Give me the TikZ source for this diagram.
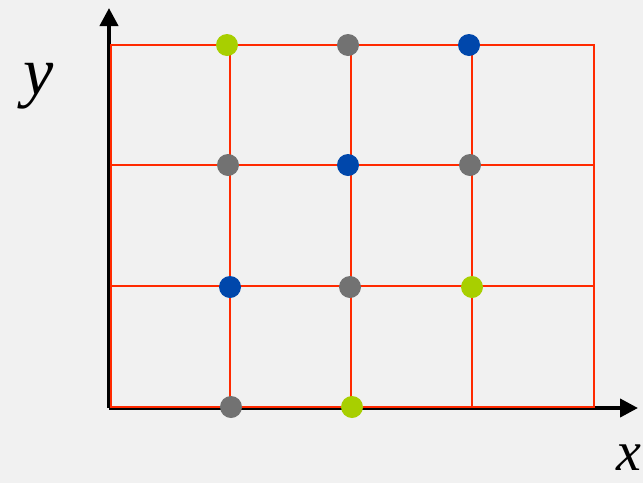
\documentclass[tikz,border=0pt]{standalone}
\usepackage{fontspec}
\setmainfont{Liberation Serif}
\usetikzlibrary{arrows.meta}
\definecolor{bg}{HTML}{F1F1F1}
\definecolor{gridred}{HTML}{FF2A00}
\definecolor{dotgreen}{HTML}{A8CF00}
\definecolor{dotgray}{HTML}{727272}
\definecolor{dotblue}{HTML}{0047AB}
\tikzset{
  gridline/.style={draw=gridred, line width=2.9pt},
  axisline/.style={draw=black, line width=4pt, -{Triangle[length=18pt,width=18pt]}},
  dot/.style={circle, inner sep=0pt, minimum size=22pt},
  gdot/.style={dot, fill=dotgreen},
  ydot/.style={dot, fill=dotgray},
  bdot/.style={dot, fill=dotblue},
  axlabel/.style={font=\itshape, inner sep=0pt}
}
\begin{document}
\begin{tikzpicture}[x=1pt,y=-1pt]
\fill[bg] (0,0) rectangle (643,483);
\useasboundingbox (0,0) rectangle (643,483);
% axes
\coordinate (O) at (109,408);
\coordinate (ytip) at (109,8);
\coordinate (xtip) at (638,408);
\draw[axisline] (O) -- (ytip);
\draw[axisline] (O) -- (xtip);
% grid
\draw[gridline] (111,45) rectangle (594,407);
\foreach \x in {230,351,472} \draw[gridline] (\x,45) -- (\x,407);
\foreach \y in {165,286} \draw[gridline] (111,\y) -- (594,\y);
% dots
\node[gdot] (d11) at (227,45) {};
\node[ydot] (d12) at (348,45) {};
\node[bdot] (d13) at (469,45) {};
\node[ydot] (d21) at (228,165) {};
\node[bdot] (d22) at (348,165) {};
\node[ydot] (d23) at (470,165) {};
\node[bdot] (d31) at (230,287) {};
\node[ydot] (d32) at (350,287) {};
\node[gdot] (d33) at (472,287) {};
\node[ydot] (d41) at (231,407) {};
\node[gdot] (d42) at (352,407) {};
% labels
\node[axlabel, font=\itshape\fontsize{68}{68}\selectfont] (ylab) at (39,86) {y};
\node[axlabel, font=\itshape\fontsize{56}{56}\selectfont] (xlab) at (629,458) {x};
\end{tikzpicture}
\end{document}
